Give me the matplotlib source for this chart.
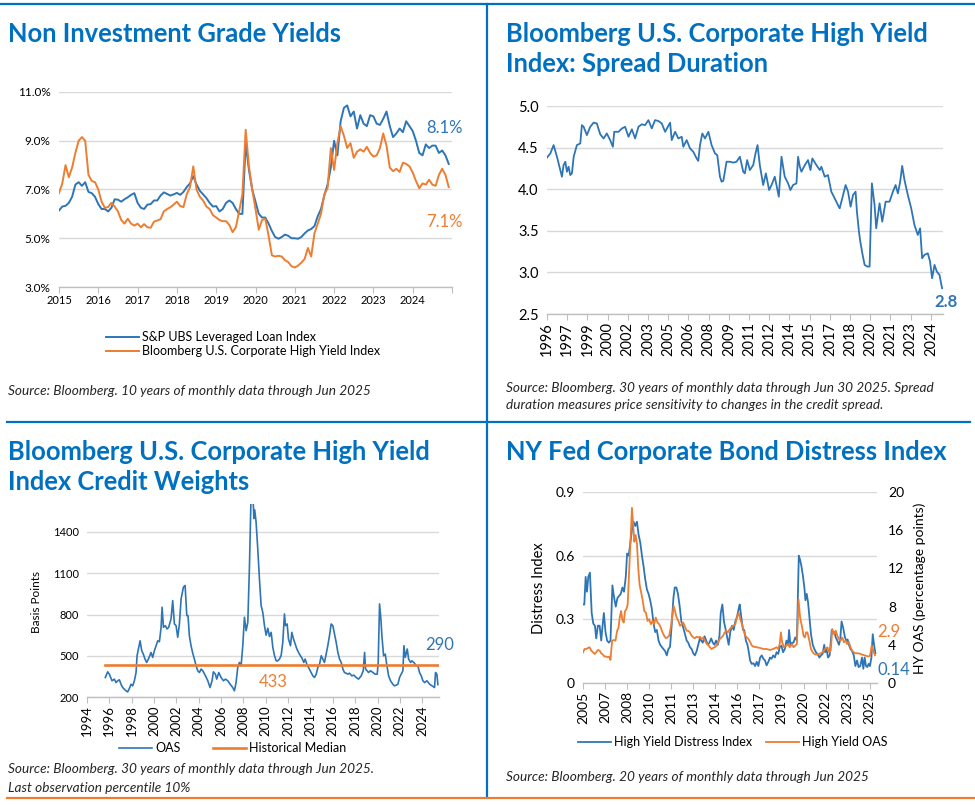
"""High yield credit dashboard: four panels redrawn with matplotlib."""

import matplotlib

matplotlib.use("Agg")
import matplotlib.pyplot as plt
from matplotlib.lines import Line2D

W, H = 975, 805
BLUE = "#2E75B6"
ORANGE = "#ED7D31"
TITLE_BLUE = "#0070C0"
GRID = "#D9D9D9"
AXIS = "#BFBFBF"

plt.rcParams["font.family"] = ["Lato", "DejaVu Sans"]

# --- panel 1: yields, monthly from Jan 2015 ---
YIELD_START = 2015
LOAN_YIELD = [
    6.14, 6.30, 6.33, 6.45, 6.70, 7.20, 7.30, 7.15, 7.30, 6.90, 6.85, 6.70,
    6.40, 6.20, 6.20, 6.10, 6.25, 6.60, 6.58, 6.50, 6.60, 6.68, 6.78, 6.85,
    6.45, 6.25, 6.20, 6.38, 6.40, 6.55, 6.55, 6.75, 6.88, 6.82, 6.75, 6.80,
    6.86, 6.78, 6.90, 7.10, 7.25, 7.55, 7.20, 6.95, 6.80, 6.65, 6.45, 6.30,
    6.32, 6.10, 6.20, 6.45, 6.55, 6.45, 6.20, 6.00, 6.00, 8.90, 7.80, 7.00,
    6.50, 6.00, 5.85, 5.85, 5.60, 5.30, 5.05, 4.98, 5.05, 5.15, 5.10, 5.00,
    5.00, 4.98, 5.05, 5.20, 5.32, 5.38, 5.50, 5.90, 6.20, 6.75, 7.20, 7.90,
    9.00, 8.40, 9.80, 10.35, 10.45, 10.00, 10.20, 9.50, 10.05, 9.70, 9.60, 10.05,
    10.00, 9.70, 9.65, 9.90, 10.20, 9.60, 9.15, 9.30, 9.50, 9.35, 9.80, 9.60,
    9.40, 9.00, 8.50, 8.40, 8.85, 8.70, 8.80, 8.80, 8.50, 8.60, 8.40, 8.05,
]
HY_YIELD = [
    6.85, 7.25, 8.00, 7.50, 7.90, 8.50, 9.00, 9.15, 9.00, 7.60, 7.35, 7.30,
    7.00, 6.50, 6.25, 6.28, 6.45, 6.30, 6.10, 5.75, 5.60, 5.80, 5.60, 5.52,
    5.60, 5.45, 5.58, 5.45, 5.43, 5.68, 5.73, 5.78, 6.10, 6.20, 6.27, 6.38,
    6.50, 6.32, 6.28, 6.80, 7.10, 7.95, 7.00, 6.70, 6.55, 6.30, 6.20, 5.95,
    5.85, 5.75, 5.70, 5.70, 5.55, 5.25, 5.45, 6.10, 6.80, 9.45, 7.95, 7.00,
    6.20, 5.35, 5.75, 5.80, 5.10, 4.30, 4.25, 4.28, 4.25, 4.10, 4.02, 3.85,
    3.80, 3.88, 4.00, 4.15, 4.60, 4.25, 5.20, 5.60, 6.00, 6.80, 7.05, 8.70,
    7.80, 8.90, 9.60, 9.20, 8.70, 8.90, 8.30, 8.55, 8.65, 8.55, 8.75, 8.50,
    8.35, 8.40, 8.70, 9.30, 8.80, 7.90, 7.75, 7.85, 7.72, 8.10, 8.05, 7.95,
    7.70, 7.35, 7.05, 7.25, 7.20, 7.40, 7.20, 7.15, 7.60, 7.85, 7.60, 7.10,
]
YIELD_TICKS = [3.0, 5.0, 7.0, 9.0, 11.0]
YIELD_YEARS = list(range(2015, 2026))

# --- panel 2: spread duration ---
DUR_YEARS = [
    1996.00, 1996.25, 1996.49, 1996.74, 1996.99, 1997.11, 1997.23, 1997.36,
    1997.48, 1997.60, 1997.73, 1997.85, 1997.98, 1998.22, 1998.47, 1998.59,
    1998.72, 1998.96, 1999.21, 1999.46, 1999.70, 1999.95, 2000.20, 2000.44,
    2000.69, 2000.89, 2000.99, 2001.31, 2001.56, 2001.80, 2002.05, 2002.30,
    2002.54, 2002.79, 2003.04, 2003.28, 2003.53, 2003.78, 2004.02, 2004.27,
    2004.52, 2004.77, 2005.14, 2005.26, 2005.51, 2005.75, 2006.00, 2006.12,
    2006.37, 2006.62, 2006.86, 2007.11, 2007.23, 2007.36, 2007.53, 2007.73,
    2007.98, 2008.22, 2008.47, 2008.64, 2008.84, 2008.96, 2009.09, 2009.33,
    2009.58, 2009.83, 2010.07, 2010.32, 2010.57, 2010.69, 2010.86, 2011.06,
    2011.31, 2011.48, 2011.63, 2011.80, 2012.05, 2012.25, 2012.49, 2012.67,
    2012.91, 2013.21, 2013.41, 2013.65, 2013.90, 2014.07, 2014.27, 2014.52,
    2014.64, 2014.77, 2014.89, 2015.14, 2015.38, 2015.56, 2015.70, 2016.00,
    2016.25, 2016.37, 2016.62, 2016.86, 2017.11, 2017.36, 2017.60, 2017.73,
    2017.98, 2018.17, 2018.35, 2018.54, 2018.72, 2018.91, 2019.01, 2019.16,
    2019.26, 2019.41, 2019.58, 2019.78, 2019.95, 2020.12, 2020.32, 2020.44,
    2020.69, 2020.89, 2021.14, 2021.43, 2021.68, 2021.88, 2022.05, 2022.22,
    2022.37, 2022.54, 2022.79, 2023.04, 2023.28, 2023.53, 2023.70, 2023.85,
    2024.02, 2024.27, 2024.44, 2024.59, 2024.77, 2024.94, 2025.14, 2025.33,
]
DUR_VALUES = [
    4.38, 4.43, 4.53, 4.39, 4.23, 4.15, 4.29, 4.33,
    4.21, 4.27, 4.17, 4.19, 4.39, 4.53, 4.55, 4.77,
    4.75, 4.65, 4.75, 4.80, 4.79, 4.66, 4.61, 4.67,
    4.59, 4.51, 4.69, 4.69, 4.73, 4.75, 4.63, 4.72,
    4.61, 4.75, 4.78, 4.77, 4.83, 4.73, 4.83, 4.82,
    4.79, 4.69, 4.80, 4.59, 4.69, 4.61, 4.63, 4.51,
    4.59, 4.49, 4.45, 4.37, 4.34, 4.53, 4.67, 4.61,
    4.69, 4.53, 4.43, 4.41, 4.15, 4.09, 4.10, 4.33,
    4.33, 4.32, 4.33, 4.39, 4.21, 4.19, 4.35, 4.23,
    4.29, 4.43, 4.53, 4.29, 4.05, 4.19, 3.99, 4.05,
    4.15, 3.91, 4.39, 4.15, 4.07, 3.99, 4.05, 4.07,
    4.39, 4.27, 4.21, 4.29, 4.35, 4.23, 4.37, 4.29,
    4.23, 4.27, 4.15, 4.17, 3.97, 3.89, 3.81, 3.77,
    3.93, 4.05, 3.97, 3.79, 3.93, 3.97, 3.73, 3.49,
    3.37, 3.23, 3.09, 3.07, 3.07, 4.07, 3.81, 3.53,
    3.83, 3.61, 3.85, 3.85, 3.97, 4.05, 3.95, 4.09,
    4.28, 4.11, 3.93, 3.77, 3.57, 3.45, 3.53, 3.17,
    3.21, 3.23, 3.13, 2.93, 3.09, 3.01, 2.97, 2.81,
]
DUR_TICKS = [2.5, 3.0, 3.5, 4.0, 4.5, 5.0]
DUR_TICK_LABELS = [
    "1996", "1997", "1999", "2000", "2002", "2003", "2005", "2006", "2008", "2009",
    "2011", "2012", "2014", "2015", "2017", "2018", "2020", "2021", "2023", "2024",
]

# --- panel 3: OAS in basis points ---
OAS_YEARS = [
    1995.64, 1995.85, 1996.00, 1996.24, 1996.45, 1996.60, 1996.75, 1996.90,
    1997.04, 1997.19, 1997.34, 1997.49, 1997.64, 1997.79, 1997.94, 1998.09,
    1998.24, 1998.39, 1998.48, 1998.63, 1998.75, 1998.90, 1999.04, 1999.19,
    1999.34, 1999.52, 1999.73, 1999.88, 2000.03, 2000.18, 2000.33, 2000.48,
    2000.63, 2000.72, 2000.84, 2001.01, 2001.16, 2001.31, 2001.52, 2001.67,
    2001.82, 2001.97, 2002.12, 2002.27, 2002.42, 2002.63, 2002.78, 2002.93,
    2003.04, 2003.16, 2003.31, 2003.46, 2003.61, 2003.76, 2003.91, 2004.06,
    2004.21, 2004.36, 2004.60, 2004.81, 2005.01, 2005.19, 2005.31, 2005.49,
    2005.61, 2005.79, 2006.00, 2006.21, 2006.39, 2006.60, 2006.81, 2007.04,
    2007.19, 2007.34, 2007.49, 2007.64, 2007.79, 2007.94, 2008.09, 2008.24,
    2008.39, 2008.54, 2008.69, 2008.84, 2008.93, 2009.01, 2009.13, 2009.28,
    2009.43, 2009.58, 2009.73, 2009.88, 2010.03, 2010.18, 2010.33, 2010.48,
    2010.63, 2010.78, 2010.93, 2011.07, 2011.22, 2011.37, 2011.52, 2011.67,
    2011.76, 2011.91, 2012.03, 2012.21, 2012.33, 2012.48, 2012.63, 2012.78,
    2012.93, 2013.10, 2013.25, 2013.40, 2013.52, 2013.67, 2013.82, 2014.06,
    2014.21, 2014.36, 2014.51, 2014.66, 2014.81, 2014.96, 2015.10, 2015.25,
    2015.40, 2015.55, 2015.70, 2015.85, 2016.00, 2016.15, 2016.30, 2016.45,
    2016.60, 2016.75, 2016.90, 2017.04, 2017.19, 2017.34, 2017.49, 2017.70,
    2017.88, 2018.09, 2018.30, 2018.54, 2018.72, 2018.84, 2018.93, 2019.07,
    2019.19, 2019.37, 2019.58, 2019.79, 2019.97, 2020.06, 2020.18, 2020.30,
    2020.39, 2020.54, 2020.69, 2020.84, 2020.99, 2021.16, 2021.37, 2021.52,
    2021.67, 2021.82, 2021.97, 2022.12, 2022.27, 2022.36, 2022.48, 2022.66,
    2022.78, 2022.96, 2023.07, 2023.25, 2023.46, 2023.61, 2023.76, 2023.91,
    2024.06, 2024.21, 2024.42, 2024.66, 2024.96, 2025.10, 2025.19, 2025.31,
    2025.40,
]
OAS_VALUES = [
    342, 383, 366, 318, 330, 305, 318, 325,
    293, 269, 257, 245, 237, 262, 293, 281,
    318, 378, 500, 561, 609, 536, 512, 476,
    451, 481, 524, 488, 536, 573, 609, 602,
    707, 853, 707, 719, 695, 707, 768, 901,
    731, 719, 634, 731, 914, 999, 1011, 792,
    792, 646, 573, 519, 476, 427, 391, 378,
    403, 391, 354, 318, 269, 318, 383, 366,
    330, 378, 342, 318, 330, 318, 293, 269,
    245, 305, 415, 451, 427, 573, 780, 682,
    743, 1157, 1700, 1700, 1498, 1560, 1473, 1279,
    1060, 865, 816, 719, 650, 700, 640, 670,
    561, 500, 463, 463, 476, 500, 597, 804,
    719, 731, 622, 573, 670, 622, 585, 549,
    524, 500, 481, 451, 476, 439, 415, 378,
    354, 342, 366, 415, 439, 500, 476, 451,
    512, 573, 646, 731, 719, 658, 597, 524,
    476, 451, 403, 378, 373, 366, 373, 354,
    359, 342, 330, 354, 391, 524, 403, 391,
    378, 391, 378, 366, 366, 451, 877, 768,
    646, 500, 512, 427, 354, 318, 293, 281,
    286, 293, 342, 366, 391, 573, 488, 549,
    476, 451, 463, 451, 427, 427, 378, 354,
    318, 305, 318, 293, 276, 269, 378, 366,
    290,
]
OAS_MEDIAN = 433
OAS_TICKS = [200, 500, 800, 1100, 1400]
OAS_TICK_YEARS = list(range(1994, 2025, 2))

# --- panel 4: NY Fed distress index and HY OAS ---
DISTRESS_YEARS = [
    2005.50, 2005.59, 2005.68, 2005.77, 2005.86, 2005.97, 2006.09, 2006.20,
    2006.31, 2006.40, 2006.51, 2006.63, 2006.74, 2006.83, 2006.92, 2007.03,
    2007.14, 2007.26, 2007.37, 2007.50, 2007.62, 2007.73, 2007.84, 2007.95,
    2008.07, 2008.18, 2008.29, 2008.41, 2008.50, 2008.61, 2008.72, 2008.83,
    2008.94, 2009.05, 2009.17, 2009.28, 2009.40, 2009.51, 2009.62, 2009.73,
    2009.85, 2009.96, 2010.07, 2010.18, 2010.30, 2010.41, 2010.52, 2010.64,
    2010.75, 2010.86, 2010.97, 2011.09, 2011.20, 2011.31, 2011.42, 2011.54,
    2011.65, 2011.74, 2011.85, 2011.96, 2012.08, 2012.19, 2012.32, 2012.44,
    2012.55, 2012.66, 2012.77, 2012.89, 2013.00, 2013.11, 2013.23, 2013.34,
    2013.45, 2013.54, 2013.65, 2013.77, 2013.88, 2013.99, 2014.10, 2014.22,
    2014.33, 2014.44, 2014.55, 2014.67, 2014.78, 2014.87, 2014.98, 2015.09,
    2015.21, 2015.32, 2015.41, 2015.52, 2015.64, 2015.75, 2015.86, 2015.97,
    2016.09, 2016.16, 2016.27, 2016.38, 2016.47, 2016.58, 2016.69, 2016.78,
    2016.87, 2016.98, 2017.10, 2017.21, 2017.32, 2017.43, 2017.55, 2017.66,
    2017.77, 2017.88, 2017.99, 2018.11, 2018.22, 2018.32, 2018.44, 2018.55,
    2018.67, 2018.78, 2018.89, 2019.00, 2019.11, 2019.23, 2019.34, 2019.45,
    2019.52, 2019.61, 2019.72, 2019.82, 2019.94, 2020.05, 2020.18, 2020.27,
    2020.36, 2020.45, 2020.56, 2020.63, 2020.72, 2020.81, 2020.90, 2021.01,
    2021.13, 2021.24, 2021.35, 2021.46, 2021.58, 2021.69, 2021.80, 2021.91,
    2021.97, 2022.06, 2022.17, 2022.28, 2022.42, 2022.51, 2022.60, 2022.69,
    2022.80, 2022.91, 2023.00, 2023.09, 2023.20, 2023.32, 2023.41, 2023.50,
    2023.59, 2023.70, 2023.81, 2023.92, 2024.03, 2024.14, 2024.25, 2024.36,
    2024.48, 2024.57, 2024.66, 2024.75, 2024.84, 2024.93, 2025.02, 2025.12,
    2025.21, 2025.30, 2025.39,
]
DISTRESS_VALUES = [
    0.37, 0.37, 0.50, 0.43, 0.50, 0.52, 0.33, 0.28,
    0.27, 0.21, 0.27, 0.27, 0.20, 0.27, 0.33, 0.24,
    0.20, 0.19, 0.20, 0.46, 0.40, 0.36, 0.40, 0.41,
    0.42, 0.45, 0.43, 0.50, 0.61, 0.60, 0.66, 0.72,
    0.76, 0.74, 0.76, 0.70, 0.66, 0.60, 0.55, 0.49,
    0.44, 0.42, 0.39, 0.35, 0.28, 0.24, 0.25, 0.20,
    0.18, 0.17, 0.16, 0.15, 0.13, 0.16, 0.17, 0.28,
    0.40, 0.45, 0.45, 0.42, 0.36, 0.29, 0.26, 0.23,
    0.20, 0.19, 0.17, 0.16, 0.14, 0.13, 0.15, 0.18,
    0.21, 0.20, 0.19, 0.22, 0.20, 0.18, 0.19, 0.21,
    0.19, 0.18, 0.20, 0.18, 0.22, 0.33, 0.37, 0.29,
    0.25, 0.21, 0.18, 0.24, 0.27, 0.25, 0.29, 0.31,
    0.35, 0.37, 0.31, 0.25, 0.25, 0.20, 0.18, 0.145,
    0.105, 0.09, 0.093, 0.08, 0.10, 0.08, 0.12, 0.13,
    0.114, 0.106, 0.083, 0.10, 0.12, 0.114, 0.13, 0.12,
    0.145, 0.137, 0.17, 0.176, 0.145, 0.16, 0.20, 0.18,
    0.25, 0.176, 0.19, 0.19, 0.215, 0.20, 0.60, 0.58,
    0.55, 0.51, 0.45, 0.39, 0.42, 0.38, 0.31, 0.23,
    0.18, 0.16, 0.145, 0.137, 0.12, 0.13, 0.137, 0.18,
    0.145, 0.16, 0.12, 0.13, 0.25, 0.24, 0.24, 0.215,
    0.20, 0.18, 0.205, 0.29, 0.26, 0.215, 0.20, 0.205,
    0.18, 0.16, 0.15, 0.13, 0.08, 0.106, 0.075, 0.08,
    0.12, 0.067, 0.12, 0.08, 0.075, 0.09, 0.08, 0.12,
    0.23, 0.18, 0.14,
]
HYOAS_YEARS = [
    2005.50, 2005.61, 2005.73, 2005.84, 2005.95, 2006.06, 2006.18, 2006.29,
    2006.40, 2006.51, 2006.63, 2006.74, 2006.85, 2006.96, 2007.08, 2007.19,
    2007.30, 2007.37, 2007.48, 2007.59, 2007.71, 2007.82, 2007.91, 2008.00,
    2008.09, 2008.18, 2008.27, 2008.36, 2008.45, 2008.54, 2008.63, 2008.72,
    2008.83, 2008.99, 2009.08, 2009.17, 2009.26, 2009.35, 2009.44, 2009.55,
    2009.67, 2009.78, 2009.89, 2010.00, 2010.12, 2010.23, 2010.34, 2010.45,
    2010.57, 2010.68, 2010.79, 2010.91, 2011.02, 2011.13, 2011.24, 2011.36,
    2011.47, 2011.58, 2011.67, 2011.76, 2011.87, 2011.99, 2012.10, 2012.21,
    2012.32, 2012.44, 2012.55, 2012.66, 2012.77, 2012.89, 2013.00, 2013.11,
    2013.23, 2013.34, 2013.45, 2013.56, 2013.68, 2013.79, 2013.90, 2014.01,
    2014.13, 2014.24, 2014.35, 2014.46, 2014.58, 2014.69, 2014.80, 2014.91,
    2015.03, 2015.14, 2015.25, 2015.36, 2015.48, 2015.59, 2015.86, 2015.97,
    2016.09, 2016.20, 2016.32, 2016.43, 2016.54, 2016.65, 2016.76, 2016.88,
    2016.99, 2017.10, 2017.32, 2017.55, 2017.77, 2017.99, 2018.22, 2018.44,
    2018.67, 2018.78, 2018.89, 2018.96, 2019.05, 2019.16, 2019.34, 2019.45,
    2019.56, 2019.72, 2019.82, 2019.94, 2020.05, 2020.16, 2020.27, 2020.41,
    2020.50, 2020.59, 2020.68, 2020.77, 2020.90, 2021.01, 2021.13, 2021.24,
    2021.35, 2021.58, 2021.80, 2021.97, 2022.13, 2022.24, 2022.35, 2022.46,
    2022.57, 2022.69, 2022.80, 2022.91, 2023.02, 2023.14, 2023.25, 2023.36,
    2023.47, 2023.59, 2023.70, 2023.81, 2023.92, 2024.03, 2024.25, 2024.48,
    2024.70, 2024.93, 2025.03, 2025.14, 2025.25, 2025.36,
]
HYOAS_VALUES = [
    3.20, 3.56, 3.56, 3.67, 3.74, 3.39, 3.22, 3.04,
    3.22, 3.46, 3.39, 3.11, 2.98, 2.77, 2.77, 2.70,
    2.77, 2.42, 4.43, 4.50, 4.43, 5.47, 5.74, 6.85,
    7.54, 6.57, 6.33, 7.54, 7.72, 8.23, 11.35, 14.46,
    18.34, 14.80, 15.50, 14.60, 12.00, 10.30, 9.60, 8.75,
    7.54, 7.37, 6.50, 6.68, 6.16, 6.50, 6.16, 6.85,
    6.33, 6.16, 5.80, 5.30, 4.95, 4.70, 4.77, 4.95,
    5.80, 7.02, 8.06, 7.54, 6.85, 6.50, 5.99, 6.16,
    6.33, 5.88, 5.47, 5.47, 5.30, 4.95, 4.77, 4.70,
    4.84, 4.77, 4.84, 4.60, 4.77, 4.43, 4.15, 4.01,
    3.74, 3.56, 3.67, 3.74, 3.91, 4.26, 4.60, 4.77,
    4.95, 5.30, 5.47, 5.30, 5.64, 5.80, 6.16, 6.85,
    7.37, 6.68, 6.16, 5.47, 4.95, 4.77, 4.60, 4.26,
    3.91, 3.81, 3.74, 3.67, 3.56, 3.56, 3.46, 3.56,
    3.74, 3.56, 4.15, 5.30, 4.26, 3.74, 3.91, 4.08,
    3.74, 4.08, 3.74, 3.91, 4.08, 8.75, 6.85, 5.81,
    4.95, 4.77, 5.30, 5.30, 4.43, 3.56, 3.22, 3.04,
    2.98, 3.04, 3.22, 3.56, 3.74, 3.22, 3.39, 5.64,
    5.12, 5.47, 4.95, 4.60, 4.43, 4.77, 4.26, 4.43,
    4.08, 4.26, 3.74, 3.39, 3.22, 3.11, 3.11, 2.98,
    2.87, 2.77, 2.87, 3.91, 3.39, 2.90,
]
DISTRESS_TICKS = [0, 0.3, 0.6, 0.9]
DISTRESS_TICK_LABELS = ["0", "0.3", "0.6", "0.9"]
HYOAS_TICKS = [0, 4, 8, 12, 16, 20]
DISTRESS_YEAR_LABELS = [
    "2005", "2007", "2008", "2010", "2011", "2013", "2014",
    "2016", "2017", "2019", "2020", "2022", "2023", "2025",
]


def fx(x: float) -> float:
    return x / W


def fy(y: float) -> float:
    return 1 - y / H


def add_axes(fig, left, top, right, bottom):
    return fig.add_axes([fx(left), fy(bottom), (right - left) / W, (bottom - top) / H])


def style_axis(ax, ysize: float, xsize: float) -> None:
    for side in ("left", "right", "top"):
        ax.spines[side].set_visible(False)
    ax.spines["bottom"].set_color(AXIS)
    ax.spines["bottom"].set_linewidth(1.0)
    ax.grid(axis="y", color=GRID, linewidth=1.0)
    ax.set_axisbelow(True)
    ax.tick_params(axis="y", length=0, labelsize=ysize, pad=6)
    ax.tick_params(axis="x", length=4, color=AXIS, labelsize=xsize, pad=2)


def title(fig, x, y, text):
    fig.text(fx(x), fy(y), text, color=TITLE_BLUE, fontsize=18.4,
             fontweight="bold", va="baseline", ha="left")


def source(fig, x, y, text):
    fig.text(fx(x), fy(y), text, fontsize=9.8, style="italic",
             color="#262626", va="baseline", ha="left")


def note(fig, x, y, text, color, size=12, weight="normal"):
    # value call-outs sit beside the end of each series
    fig.text(fx(x), fy(y), text, color=color, fontsize=size,
             fontweight=weight, ha="left", va="center")


def legend(fig, handles, labels, x, y, ncol=1, spacing=2.0):
    fig.legend(handles, labels, loc="center left", bbox_to_anchor=(fx(x), fy(y)),
               frameon=False, ncol=ncol, fontsize=9, handlelength=2.6,
               handletextpad=0.3, borderpad=0, borderaxespad=0,
               labelspacing=0.15, columnspacing=spacing)


def panel_yields(fig):
    ax = add_axes(fig, 59, 92, 452, 287)
    xs = [YIELD_START + i / 12 for i in range(len(LOAN_YIELD))]
    loan, = ax.plot(xs, LOAN_YIELD, color=BLUE, lw=1.4)
    hy, = ax.plot(xs, HY_YIELD, color=ORANGE, lw=1.4)
    ax.set_xlim(YIELD_YEARS[0], YIELD_YEARS[-1])
    ax.set_ylim(YIELD_TICKS[0], YIELD_TICKS[-1])
    ax.set_yticks(YIELD_TICKS)
    ax.set_yticklabels([f"{v:.1f}%" for v in YIELD_TICKS])
    ax.set_xticks(YIELD_YEARS)
    ax.set_xticklabels([str(y) for y in YIELD_YEARS[:-1]] + [""])
    style_axis(ax, 8.5, 8)
    note(fig, 426, 128, f"{LOAN_YIELD[-1]:.1f}%", BLUE)
    note(fig, 426, 222, f"{HY_YIELD[-1]:.1f}%", ORANGE)

    title(fig, 8, 41.5, "Non Investment Grade Yields")
    legend(fig, [loan, hy],
           ["S&P UBS Leveraged Loan Index", "Bloomberg U.S. Corporate High Yield Index"],
           106, 344)
    source(fig, 8, 395, "Source: Bloomberg. 10 years of monthly data through Jun 2025")


def panel_duration(fig):
    ax = add_axes(fig, 547, 106, 943, 314)
    ax.plot(DUR_YEARS, DUR_VALUES, color=BLUE, lw=1.3)
    ax.set_xlim(DUR_YEARS[0], 2025.4)
    ax.set_ylim(DUR_TICKS[0], DUR_TICKS[-1])
    ax.set_yticks(DUR_TICKS)
    ax.set_yticklabels([f"{v:.1f}" for v in DUR_TICKS])
    ax.set_xticks([1996 + 1.5 * i for i in range(len(DUR_TICK_LABELS))])
    ax.set_xticklabels(DUR_TICK_LABELS, rotation=90)
    style_axis(ax, 10.5, 10.5)
    note(fig, 934, 302, f"{DUR_VALUES[-1]:.1f}", BLUE, weight="bold")

    title(fig, 506, 41.5, "Bloomberg U.S. Corporate High Yield")
    title(fig, 506, 71.5, "Index: Spread Duration")
    source(fig, 506, 392,
           "Source: Bloomberg. 30 years of monthly data through Jun 30 2025. Spread")
    source(fig, 506, 409,
           "duration measures price sensitivity to changes in the credit spread.")


def panel_oas(fig):
    ax = add_axes(fig, 87, 504.5, 439, 697)
    oas, = ax.plot(OAS_YEARS, OAS_VALUES, color=BLUE, lw=1.2)
    med, = ax.plot([OAS_YEARS[0], OAS_YEARS[-1]], [OAS_MEDIAN, OAS_MEDIAN],
                   color=ORANGE, lw=1.9)
    ax.set_xlim(1994, 2025.5)
    ax.set_ylim(200, 1600)
    ax.set_yticks(OAS_TICKS)
    ax.set_xticks(OAS_TICK_YEARS)
    ax.set_xticklabels([str(y) for y in OAS_TICK_YEARS], rotation=90)
    style_axis(ax, 8, 9.5)
    note(fig, 259, 682, str(OAS_MEDIAN), ORANGE)
    note(fig, 425, 645, str(OAS_VALUES[-1]), BLUE)
    fig.text(fx(37), fy(602), "Basis Points", rotation=90, fontsize=8.5,
             ha="center", va="center")

    title(fig, 8, 460, "Bloomberg U.S. Corporate High Yield")
    title(fig, 8, 490, "Index Credit Weights")
    legend(fig, [oas, med], ["OAS", "Historical Median"], 119, 748, ncol=2, spacing=2.6)
    source(fig, 8, 773, "Source: Bloomberg. 30 years of monthly data through Jun 2025.")
    source(fig, 8, 792, "Last observation percentile 10%")


def panel_distress(fig):
    ax = add_axes(fig, 583, 492, 877, 683)
    dist, = ax.plot(DISTRESS_YEARS, DISTRESS_VALUES, color=BLUE, lw=1.3)
    ax.set_xlim(2005.5, 2025.5)
    ax.set_ylim(DISTRESS_TICKS[0], DISTRESS_TICKS[-1])
    ax.set_yticks(DISTRESS_TICKS)
    ax.set_yticklabels(DISTRESS_TICK_LABELS)
    ax.set_xticks([2005.5 + 1.5 * i for i in range(len(DISTRESS_YEAR_LABELS))])
    ax.set_xticklabels(DISTRESS_YEAR_LABELS, rotation=90)
    style_axis(ax, 10, 10)

    # secondary axis is drawn over the distress line, as in the source chart
    ax2 = ax.twinx()
    spread, = ax2.plot(HYOAS_YEARS, HYOAS_VALUES, color=ORANGE, lw=1.3)
    ax2.set_ylim(HYOAS_TICKS[0], HYOAS_TICKS[-1])
    ax2.set_yticks(HYOAS_TICKS)
    for side in ("left", "right", "top", "bottom"):
        ax2.spines[side].set_visible(False)
    ax2.tick_params(axis="y", length=0, labelsize=10, pad=8)

    note(fig, 877, 632, f"{HYOAS_VALUES[-1]:.1f}", ORANGE)
    note(fig, 877, 670, f"{DISTRESS_VALUES[-1]:.2f}", BLUE)
    fig.text(fx(539), fy(588), "Distress Index", rotation=90, fontsize=10.5,
             ha="center", va="center")
    fig.text(fx(920), fy(588), "HY OAS (percentage points)", rotation=90,
             fontsize=10, ha="center", va="center")

    title(fig, 506, 460, "NY Fed Corporate Bond Distress Index")
    legend(fig, [dist, spread], ["High Yield Distress Index", "High Yield OAS"],
           578, 742, ncol=2, spacing=1.1)
    source(fig, 506, 781, "Source: Bloomberg. 20 years of monthly data through Jun 2025")


def separators(fig):
    lines = [
        ((0, 975), (4, 4), TITLE_BLUE),
        ((487, 487), (4, 798), TITLE_BLUE),
        ((7, 970), (422, 422), TITLE_BLUE),
        ((7, 975), (798, 798), ORANGE),
    ]
    for xs, ys, color in lines:
        fig.add_artist(Line2D([fx(x) for x in xs], [fy(y) for y in ys],
                              transform=fig.transFigure, color=color, lw=1.6))


def main() -> int:
    fig = plt.figure(figsize=(W / 100, H / 100), dpi=100)
    fig.patch.set_facecolor("white")
    panel_yields(fig)
    panel_duration(fig)
    panel_oas(fig)
    panel_distress(fig)
    separators(fig)
    fig.savefig("out.png", dpi=100)
    plt.close(fig)
    return 0


if __name__ == "__main__":
    raise SystemExit(main())
